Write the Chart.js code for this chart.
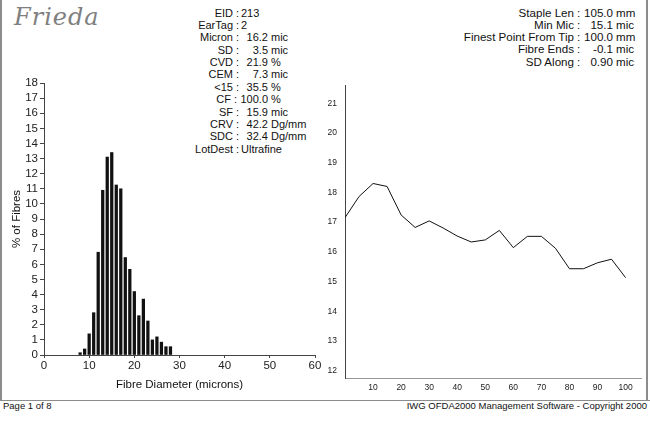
<!DOCTYPE html>
<html>
<head>
<meta charset="utf-8">
<title>OFDA2000 report</title>
<script src="https://cdn.jsdelivr.net/npm/chart.js@4.4.1/dist/chart.umd.min.js"></script>
<style>
  body { margin: 0; width: 650px; height: 421px; background: #fff; position: relative; overflow: hidden;
         font-family: "Liberation Sans", Arial, sans-serif; color: #111; }
  #histo { position: absolute; left: 0; top: 70px; }
  #along { position: absolute; left: 318px; top: 70px; }
  .frame { position: absolute; background: #8c8c8c; }
  .txt { position: absolute; white-space: nowrap; font-size: 11px; line-height: 12px; }
  .big { font-size: 11.6px; }
  #name { position: absolute; left: 14px; top: 3px; font-family: "DejaVu Serif", serif; font-style: italic;
          font-size: 24px; color: #808080; letter-spacing: 1px; }
  .foot { position: absolute; top: 400px; font-size: 9.5px; line-height: 12px; white-space: nowrap; }
</style>
</head>
<body>
<div class="frame" style="left:0;top:0;width:2px;height:401px"></div>
<div class="frame" style="left:646px;top:0;width:2px;height:401px"></div>
<div class="frame" style="left:0;top:400px;width:650px;height:1px"></div>
<div id="name">Frieda</div>
<div id="stats"></div>
<div class="foot" style="left:3px">Page 1 of 8</div>
<div class="foot" style="right:3px">IWG OFDA2000 Management Software - Copyright 2000</div>
<canvas id="histo" width="330" height="330"></canvas>
<canvas id="along" width="332" height="330"></canvas>
<script>
// fibre diameter histogram
const diameters = [8, 9, 10, 11, 12, 13, 14, 15, 16, 17, 18, 19, 20, 21, 22, 23, 24, 25, 26, 27, 28];
const fibrePct = [0.15, 0.4, 1.4, 2.8, 6.8, 10.9, 13.1, 13.4, 11.25, 11.0, 6.45, 5.67, 4.2, 2.6, 3.7, 2.25, 1.0, 1.2, 0.85, 0.55, 0.55];
const histXTicks = [0, 10, 20, 30, 40, 50, 60];
const histYTicks = [0, 1, 2, 3, 4, 5, 6, 7, 8, 9, 10, 11, 12, 13, 14, 15, 16, 17, 18];

// micron along the staple (mm from tip)
const alongPos = [0, 5, 10, 15, 20, 25, 30, 35, 40, 45, 50, 55, 60, 65, 70, 75, 80, 85, 90, 95, 100];
const alongMic = [17.15, 17.86, 18.3, 18.2, 17.24, 16.82, 17.04, 16.8, 16.53, 16.33, 16.4, 16.72, 16.14, 16.52, 16.52, 16.12, 15.43, 15.43, 15.63, 15.75, 15.13];
const alongXTicks = [10, 20, 30, 40, 50, 60, 70, 80, 90, 100];
const alongYTicks = [12, 13, 14, 15, 16, 17, 18, 19, 20, 21];

// summary text
const leftLabels = ['EID', 'EarTag', 'Micron', 'SD', 'CVD', 'CEM', '<15', 'CF', 'SF', 'CRV', 'SDC', 'LotDest'];
const leftValues = ['213', '2', '16.2', '3.5', '21.9', '7.3', '35.5', '100.0', '15.9', '42.2', '32.4', 'Ultrafine'];
const leftUnits = ['', '', 'mic', 'mic', '%', 'mic', '%', '%', 'mic', 'Dg/mm', 'Dg/mm', ''];
const rightLabels = ['Staple Len', 'Min Mic', 'Finest Point From Tip', 'Fibre Ends', 'SD Along'];
const rightValues = ['105.0', '15.1', '100.0', '-0.1', '0.90'];
const rightUnits = ['mm', 'mic', 'mm', 'mic', 'mic'];

const stats = document.getElementById('stats');
function addSpan(text, css, cls) {
    const s = document.createElement('span');
    s.className = 'txt' + (cls ? ' ' + cls : '');
    s.textContent = text;
    Object.assign(s.style, css);
    stats.appendChild(s);
    return s;
}
function statBlock(labels, values, units, colonX, numRight, top, step, cls) {
    labels.forEach((label, i) => {
        const y = (top + i * step) + 'px';
        let cx = colonX;
        if (units[i]) {
            const num = addSpan(values[i], { right: (650 - numRight) + 'px', top: y }, cls);
            addSpan(units[i], { left: (numRight + 3) + 'px', top: y }, cls);
            // long numbers push the colon to the left
            cx = Math.min(colonX, numRight - num.offsetWidth - 5);
        } else {
            addSpan(values[i], { left: (colonX + 4) + 'px', top: y }, cls);
        }
        addSpan(label, { right: (650 - cx + 4) + 'px', top: y }, cls);
        addSpan(':', { left: (cx - 1) + 'px', top: y }, cls);
    });
}
statBlock(leftLabels, leftValues, leftUnits, 237, 268, 6.5, 12.38);
statBlock(rightLabels, rightValues, rightUnits, 578, 613, 6.5, 12.3, 'big');

const fixTicks = list => scale => { scale.ticks = list.map(v => ({ value: v })); };

new Chart(document.getElementById('histo'), {
    type: 'bar',
    data: {
        datasets: [{
            data: diameters.map((d, i) => ({ x: d, y: fibrePct[i] })),
            backgroundColor: '#111',
            barThickness: 2.6
        }]
    },
    options: {
        responsive: false,
        animation: false,
        layout: { padding: { top: 13, right: 15, left: 0, bottom: 0 } },
        plugins: { legend: { display: false }, tooltip: { enabled: false } },
        scales: {
            x: {
                type: 'linear', min: 0, max: 60, offset: false,
                afterBuildTicks: fixTicks(histXTicks),
                afterFit: s => { s.height = 45; },
                grid: { drawOnChartArea: false, offset: false, tickLength: 3, color: '#444' },
                border: { color: '#444' },
                ticks: { color: '#222', font: { family: 'Liberation Sans', size: 11.5 }, padding: 1, maxRotation: 0, autoSkip: false },
                title: { display: true, text: 'Fibre Diameter (microns)', color: '#111',
                         font: { family: 'Liberation Sans', size: 11.5 }, padding: { top: 0, bottom: 8 } }
            },
            y: {
                min: 0, max: 18,
                afterBuildTicks: fixTicks(histYTicks),
                afterFit: s => { s.width = 44; },
                grid: { drawOnChartArea: false, tickLength: 4, color: '#444' },
                border: { color: '#444' },
                ticks: { color: '#222', font: { family: 'Liberation Sans', size: 11.5 }, padding: 2, autoSkip: false },
                title: { display: true, text: '% of Fibres', color: '#111',
                         font: { family: 'Liberation Sans', size: 11.5 }, padding: { top: 10, bottom: 0 } }
            }
        }
    }
});

new Chart(document.getElementById('along'), {
    type: 'line',
    data: {
        datasets: [{
            data: alongPos.map((p, i) => ({ x: p, y: alongMic[i] })),
            borderColor: '#111',
            borderWidth: 1,
            pointRadius: 0,
            tension: 0
        }]
    },
    options: {
        responsive: false,
        animation: false,
        layout: { padding: { top: 15.5, right: 9, left: 0, bottom: 0 } },
        plugins: { legend: { display: false }, tooltip: { enabled: false } },
        scales: {
            x: {
                type: 'linear', min: 0, max: 105.5,
                afterBuildTicks: fixTicks(alongXTicks),
                afterFit: s => { s.height = 22; },
                grid: { display: false, tickLength: 0 },
                border: { color: '#999', dash: [2, 2] },
                ticks: { color: '#222', font: { family: 'Liberation Sans', size: 8.5 }, padding: 5, maxRotation: 0, autoSkip: false }
            },
            y: {
                min: 11.75, max: 21.6,
                afterBuildTicks: fixTicks(alongYTicks),
                afterFit: s => { s.width = 27; },
                grid: { display: false, tickLength: 0 },
                border: { color: '#444' },
                ticks: { color: '#222', font: { family: 'Liberation Sans', size: 8.5 }, padding: 8, autoSkip: false }
            }
        }
    }
});
</script>
</body>
</html>
